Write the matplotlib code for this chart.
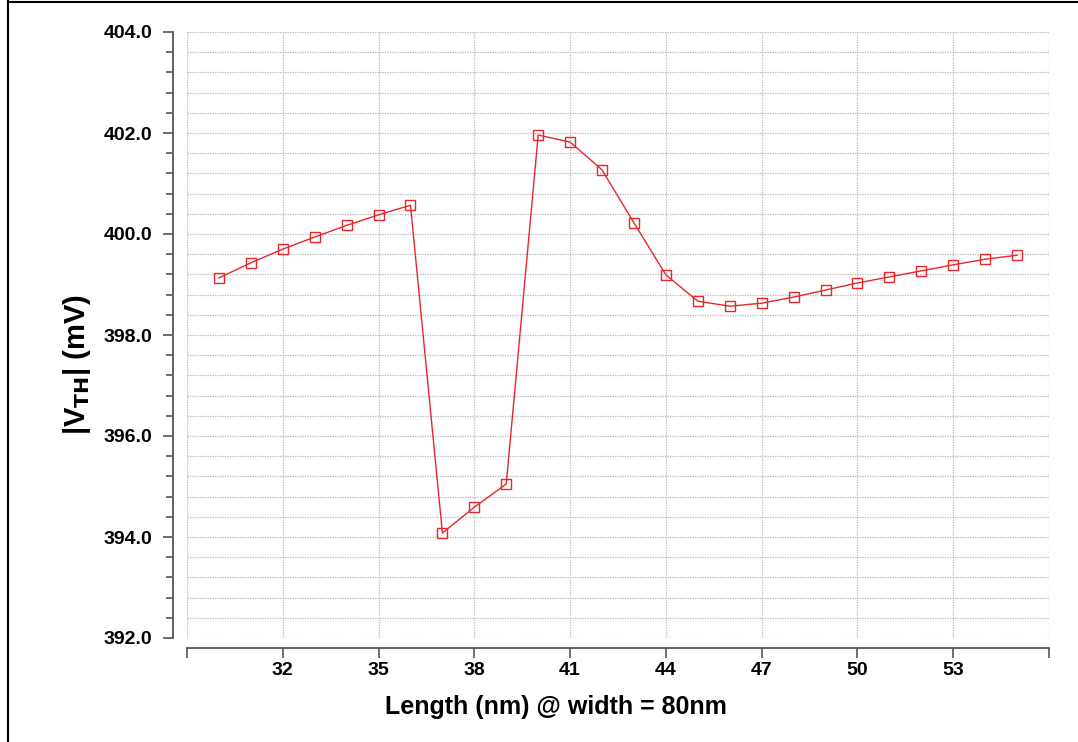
import matplotlib
matplotlib.use("Agg")
import matplotlib.pyplot as plt
from matplotlib.ticker import MultipleLocator, FormatStrFormatter, FixedLocator
from matplotlib.lines import Line2D

length_nm = [30, 31, 32, 33, 34, 35, 36, 37, 38, 39, 40, 41, 42, 43, 44, 45, 46, 47, 48,
             49, 50, 51, 52, 53, 54, 55]
vth_mv = [399.13, 399.43, 399.70, 399.94, 400.17, 400.38, 400.57, 394.08, 394.59, 395.05,
          401.96, 401.82, 401.27, 400.22, 399.19, 398.67, 398.57, 398.63, 398.75, 398.89,
          399.03, 399.15, 399.27, 399.39, 399.50, 399.58]
x_ticks = [29, 32, 35, 38, 41, 44, 47, 50, 53, 56]
x_labels = ["", "32", "35", "38", "41", "44", "47", "50", "53", ""]

plt.rcParams['font.family'] = ['Liberation Sans', 'DejaVu Sans']

W, H = 1078, 742
fig = plt.figure(figsize=(W / 100, H / 100), dpi=100)
ax = fig.add_axes([187 / W, 1 - 638 / H, (1049 - 187) / W, (638 - 32) / H])

ax.plot(length_nm, vth_mv, color='#e8262b', lw=1.0, marker='s', markersize=7,
        markerfacecolor='none', markeredgecolor='#e8262b', markeredgewidth=1.0)

ax.set_xlim(29, 56)
ax.set_ylim(392, 404)

ax.xaxis.set_major_locator(FixedLocator(x_ticks))
ax.set_xticklabels(x_labels)
ax.yaxis.set_major_locator(MultipleLocator(2))
ax.yaxis.set_minor_locator(MultipleLocator(0.4))
ax.yaxis.set_major_formatter(FormatStrFormatter('%.1f'))

ax.grid(True, which='major', axis='x', linestyle=(0, (1, 1)), color='#b8b8b8', lw=0.9)
ax.grid(True, which='both', axis='y', linestyle=(0, (1, 1)), color='#b8b8b8', lw=0.9)

for s in ['top', 'right']:
    ax.spines[s].set_visible(False)
spine_col = '#555555'
ax.spines['left'].set_position(('outward', 10))
ax.spines['bottom'].set_position(('outward', 7))
ax.spines['left'].set_color(spine_col)
ax.spines['bottom'].set_color(spine_col)
ax.spines['left'].set_linewidth(1.3)
ax.spines['bottom'].set_linewidth(1.3)

ax.tick_params(axis='y', which='major', length=7, width=1.2, color=spine_col, pad=8)
ax.tick_params(axis='y', which='minor', length=5, width=1.2, color=spine_col)
ax.tick_params(axis='x', which='major', length=7, width=1.2, color=spine_col, pad=3)
for lab in ax.get_xticklabels() + ax.get_yticklabels():
    lab.set_fontsize(14)
    lab.set_fontweight('bold')

ax.set_xlabel('Length (nm) @ width = 80nm', fontsize=18, fontweight='bold')
ax.xaxis.set_label_coords((556 - 187) / 862, 1 - (695 - 32) / 606)
ax.set_ylabel(r'|V$_{\mathbf{TH}}$| (mV)', fontsize=21, fontweight='bold')
ax.yaxis.set_label_coords((93 - 187) / 862, 1 - (364 - 32) / 606)

# figure border (left and top)
fig.add_artist(Line2D([8 / W, 8 / W], [0, 1 - 1 / H], transform=fig.transFigure, color='black', lw=1.5))
fig.add_artist(Line2D([8 / W, 1], [1 - 1.5 / H, 1 - 1.5 / H], transform=fig.transFigure, color='black', lw=1.5))

fig.savefig('out.png', dpi=100)
